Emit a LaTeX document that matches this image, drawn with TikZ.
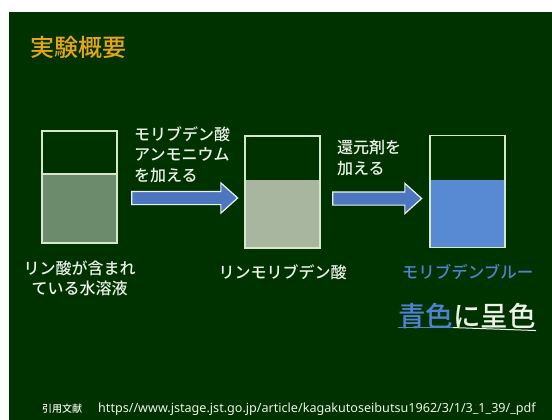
\documentclass[tikz,border=0pt]{standalone}
\usepackage{fontspec}
\setmainfont{Noto Sans CJK JP}[BoldFont={Noto Sans CJK JP Medium}]
\newfontfamily\urlfont{Noto Sans}
\usepackage{xcolor}
\usetikzlibrary{shapes.arrows, positioning}

\definecolor{board}{RGB}{0,50,0}
\definecolor{chalk}{RGB}{236,242,232}
\definecolor{rim}{RGB}{214,232,204}
\definecolor{titlegold}{RGB}{232,164,24}
\definecolor{phosphate}{RGB}{108,138,108}
\definecolor{molyb}{RGB}{168,182,160}
\definecolor{molyblue}{RGB}{88,138,212}
\definecolor{arrowblue}{RGB}{76,118,192}
\definecolor{labelblue}{RGB}{78,130,210}

\begin{document}
\begin{tikzpicture}[
    x=1pt, y=-1pt,
    beaker/.style={rectangle, draw=rim, line width=1.8pt, minimum width=75pt, minimum height=112pt,
        path picture={\fill[#1] (path picture bounding box.south west) rectangle ([yshift=-44pt]path picture bounding box.north east);}},
    fatarrow/.style={single arrow, draw=chalk, fill=arrowblue, line width=1.2pt, inner sep=0pt, inner ysep=6pt,
        single arrow head extend=8.5pt, single arrow head indent=0pt, single arrow tip angle=84},
    note/.style={text=chalk, font=\fontsize{16}{20.5}\selectfont\bfseries, align=left, inner sep=0pt},
    caption/.style={text=chalk, font=\fontsize{16}{20}\selectfont\bfseries, align=center, inner sep=0pt}
]
    % Board
    \fill[white] (0,0) rectangle (552,420);
    \fill[board] (9,12) rectangle (552,420);

    % Title
    \node[anchor=west, text=titlegold, font=\fontsize{24}{28}\selectfont\bfseries, inner sep=0pt] (title) at (30,47) {実験概要};

    % Beakers
    \node[beaker=phosphate] (b1) at (79.5,187) {};
    \draw[rim, line width=1.8pt] ([yshift=-44pt]b1.north west) -- ([yshift=-44pt]b1.north east);
    \node[beaker=molyb] (b2) at (282.5,192) {};
    \node[beaker=molyblue] (b3) at (467.5,191.5) {};

    % Arrows
    \node[fatarrow, minimum height=106pt] (a1) at (181,198) {};
    \node[fatarrow, minimum height=89pt] (a2) at (373.5,198.5) {};

    % Reagents
    \node[note, anchor=south west] (r1) at (134,183) {モリブデン酸\\アンモニウム\\を加える};
    \node[note, anchor=south west] (r2) at (337,176) {還元剤を\\加える};

    % Labels
    \node[caption, below=17pt of b1] (l1) {リン酸が含まれ\\ている水溶液};
    \node[caption, below=16pt of b2] (l2) {リンモリブデン酸};
    \node[caption, below=16pt of b3, text=labelblue, font=\fontsize{16.5}{20}\selectfont\bfseries] (l3) {モリブデンブルー};

    % Result
    \node[anchor=east, inner sep=0pt, font=\fontsize{27.5}{30}\selectfont\bfseries] (res) at (536,316)
        {\textcolor{labelblue}{青色}\textcolor{chalk}{に呈色}};
    \draw[labelblue, line width=1pt] (res.south west) ++(0,-1.5) -- ++(55,0) coordinate (u1);
    \draw[chalk, line width=1pt] (u1) -- ([yshift=-1.5pt]res.south east);

    % Reference
    \node[anchor=west, inner sep=0pt, text=chalk, font=\fontsize{10}{12}\selectfont\bfseries] (refhead) at (42,409) {引用文献};
    \node[anchor=west, inner sep=0pt, text=chalk, font=\urlfont\fontsize{12.6}{13}\selectfont] (refurl) at (98,409)
        {https//www.jstage.jst.go.jp/article/kagakutoseibutsu1962/3/1/3\_1\_39/\_pdf};
\end{tikzpicture}
\end{document}
